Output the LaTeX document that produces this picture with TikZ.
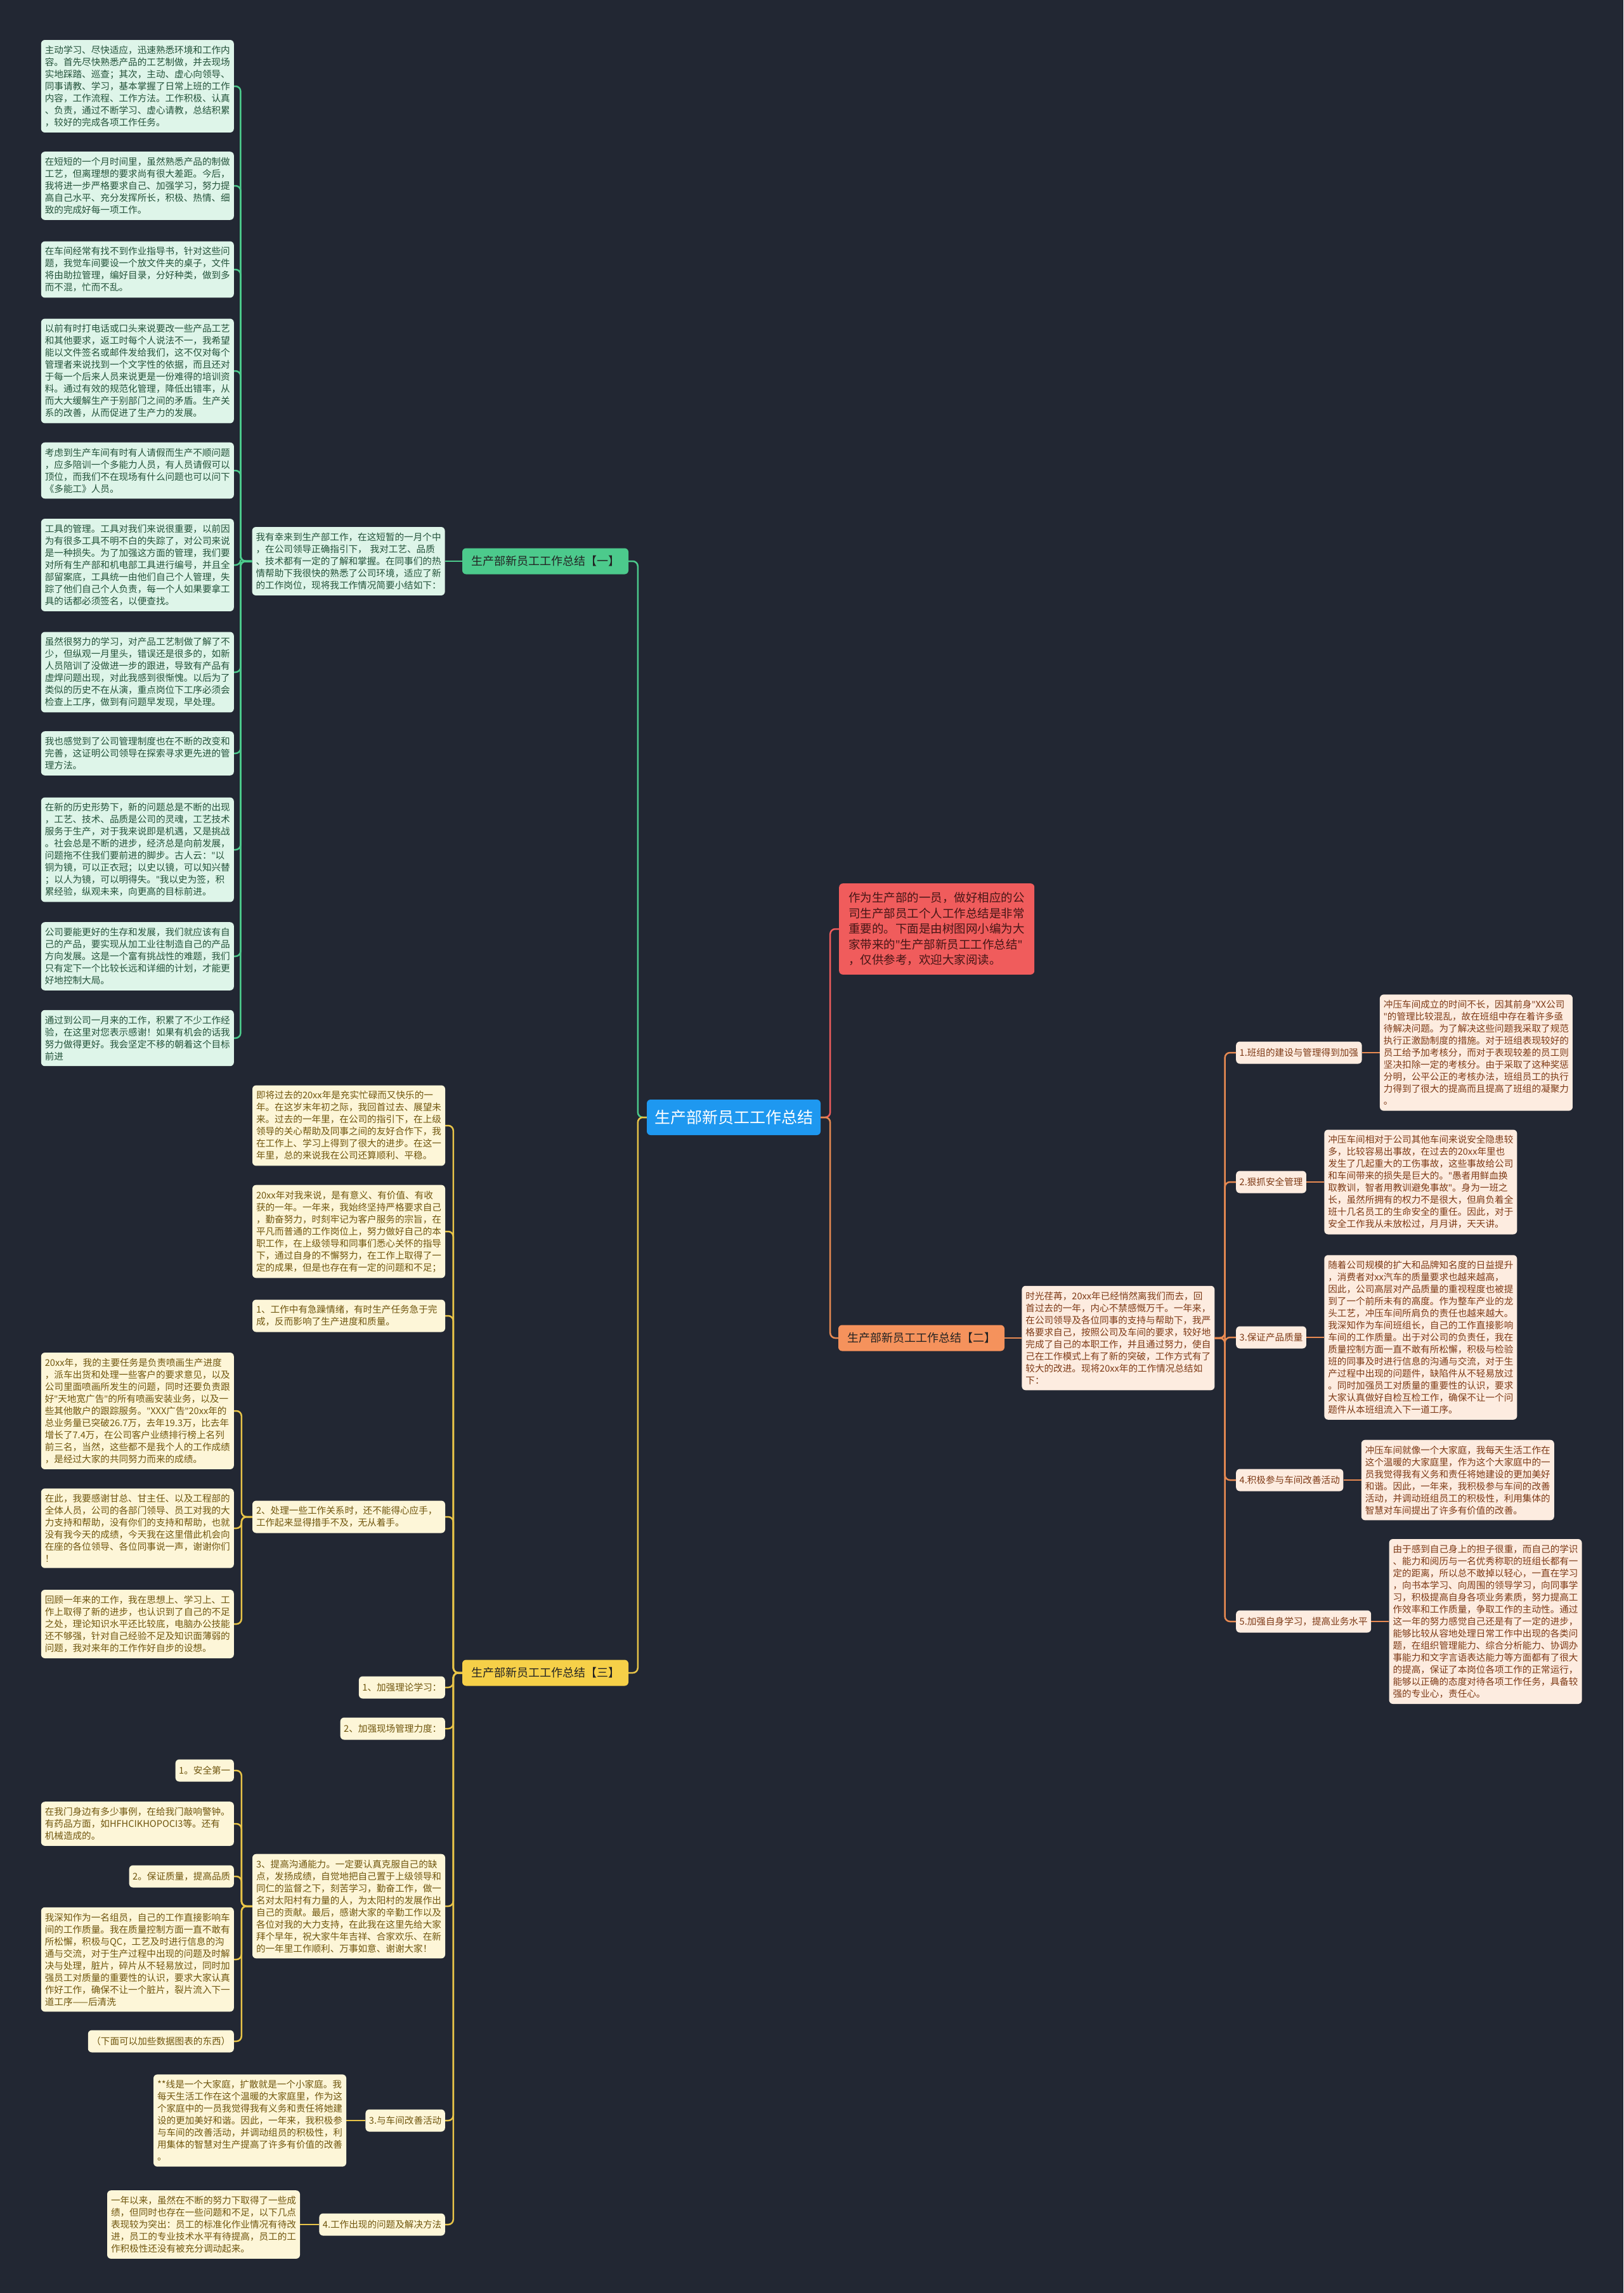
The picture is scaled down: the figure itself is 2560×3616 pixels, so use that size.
\documentclass[tikz,border=0pt]{standalone}
\usepackage{fontspec}
\setmainfont{Noto Sans CJK SC}
\newfontfamily\latinfont{Noto Sans}
\newcommand{\dq}{{\latinfont "}}
\usepackage{tikz}
\usepackage{xcolor}
\usetikzlibrary{positioning}
\definecolor{bgdark}{RGB}{34, 39, 51}
\definecolor{rootblue}{RGB}{30, 152, 240}
\definecolor{introred}{RGB}{240, 92, 92}
\definecolor{introtext}{RGB}{70, 22, 22}
\definecolor{darktext}{RGB}{35, 35, 35}
\definecolor{grnmain}{RGB}{76, 202, 140}
\definecolor{grnfill}{RGB}{222, 245, 233}
\definecolor{grntext}{RGB}{35, 82, 58}
\definecolor{ylwmain}{RGB}{246, 208, 72}
\definecolor{ylwline}{RGB}{232, 196, 72}
\definecolor{ylwfill}{RGB}{253, 246, 216}
\definecolor{ylwtext}{RGB}{112, 86, 14}
\definecolor{orgmain}{RGB}{245, 146, 92}
\definecolor{orgline}{RGB}{232, 138, 82}
\definecolor{orgfill}{RGB}{253, 236, 224}
\definecolor{orgtext}{RGB}{126, 58, 22}
\tikzstyle{rootnode} = [rectangle, rounded corners=6pt, fill=rootblue, text=white, font=\fontsize{25}{30}\selectfont, inner xsep=12pt, minimum height=56pt]
\tikzstyle{branchnode} = [rectangle, rounded corners=6pt, text=darktext, font=\fontsize{18}{22}\selectfont, inner xsep=14pt, minimum height=41pt]
\tikzstyle{introbox} = [rectangle, rounded corners=6pt, fill=introred, text=introtext, align=left, text width=278pt, inner xsep=15pt, inner ysep=14pt, font=\fontsize{18.5}{24.5}\selectfont]
\tikzstyle{leafbox} = [rectangle, rounded corners=6pt, align=left, text width=292pt, inner xsep=6pt, inner ysep=9pt, font=\fontsize{14.6}{19}\selectfont]
\tikzstyle{tagbox} = [rectangle, rounded corners=6pt, inner xsep=5.5pt, minimum height=35pt, font=\fontsize{14.6}{19}\selectfont]
\tikzstyle{greenleaf} = [leafbox, fill=grnfill, text=grntext]
\tikzstyle{yellowleaf} = [leafbox, fill=ylwfill, text=ylwtext]
\tikzstyle{yellowtag} = [tagbox, fill=ylwfill, text=ylwtext]
\tikzstyle{orangeleaf} = [leafbox, fill=orgfill, text=orgtext]
\tikzstyle{orangetag} = [tagbox, fill=orgfill, text=orgtext]
\tikzstyle{greenlink} = [line width=2.5pt, draw=grnmain, rounded corners=8pt]
\tikzstyle{yellowlink} = [line width=2.5pt, draw=ylwline, rounded corners=8pt]
\tikzstyle{orangelink} = [line width=2.5pt, draw=orgline, rounded corners=8pt]
\tikzstyle{redlink} = [line width=2.5pt, draw=introred, rounded corners=8pt]

\begin{document}
\begin{tikzpicture}[x=1pt, y=-1pt]

\path [use as bounding box, fill=bgdark] (0,0) rectangle (2560,3616);

% Centre topic and intro
\node (root) [rootnode] at (1157,1762) {生产部新员工工作总结};
\node (intro) [introbox, anchor=west] at (1323,1465) {作为生产部的一员，做好相应的公\\司生产部员工个人工作总结是非常\\重要的。下面是由树图网小编为大\\家带来的\dq 生产部新员工工作总结\dq\\，仅供参考，欢迎大家阅读。};

% Part one (green, upper left)
\node (part1) [branchnode, fill=grnmain] at (860,885) {生产部新员工工作总结【一】};
\node (part1text) [greenleaf, left=27pt of part1] {我有幸来到生产部工作，在这短暂的一月个中\\，在公司领导正确指引下， 我对工艺、品质\\、技术都有一定的了解和掌握。在同事们的热\\情帮助下我很快的熟悉了公司环境，适应了新\\的工作岗位，现将我工作情况简要小结如下：};
\node (p1a) [greenleaf, anchor=east] at (369,136) {主动学习、尽快适应，迅速熟悉环境和工作内\\容。首先尽快熟悉产品的工艺制做，并去现场\\实地踩踏、巡查；其次，主动、虚心向领导、\\同事请教、学习，基本掌握了日常上班的工作\\内容，工作流程、工作方法。工作积极、认真\\、负责，通过不断学习、虚心请教，总结积累\\，较好的完成各项工作任务。};
\node (p1b) [greenleaf, anchor=east] at (369,293) {在短短的一个月时间里，虽然熟悉产品的制做\\工艺，但离理想的要求尚有很大差距。今后，\\我将进一步严格要求自己、加强学习，努力提\\高自己水平、充分发挥所长，积极、热情、细\\致的完成好每一项工作。};
\node (p1c) [greenleaf, anchor=east] at (369,425) {在车间经常有找不到作业指导书，针对这些问\\题，我觉车间要设一个放文件夹的桌子，文件\\将由助拉管理，编好目录，分好种类，做到多\\而不混，忙而不乱。};
\node (p1d) [greenleaf, anchor=east] at (369,585) {以前有时打电话或口头来说要改一些产品工艺\\和其他要求，返工时每个人说法不一，我希望\\能以文件签名或邮件发给我们，这不仅对每个\\管理者来说找到一个文字性的依据，而且还对\\于每一个后来人员来说更是一份难得的培训资\\料。通过有效的规范化管理，降低出错率，从\\而大大缓解生产于别部门之间的矛盾。生产关\\系的改善，从而促进了生产力的发展。};
\node (p1e) [greenleaf, anchor=east] at (369,742) {考虑到生产车间有时有人请假而生产不顺问题\\，应多陪训一个多能力人员，有人员请假可以\\顶位，而我们不在现场有什么问题也可以问下\\《多能工》人员。};
\node (p1f) [greenleaf, anchor=east] at (369,891) {工具的管理。工具对我们来说很重要，以前因\\为有很多工具不明不白的失踪了，对公司来说\\是一种损失。为了加强这方面的管理，我们要\\对所有生产部和机电部工具进行编号，并且全\\部留案底，工具统一由他们自己个人管理，失\\踪了他们自己个人负责，每一个人如果要拿工\\具的话都必须签名，以便查找。};
\node (p1g) [greenleaf, anchor=east] at (369,1060) {虽然很努力的学习，对产品工艺制做了解了不\\少，但纵观一月里头，错误还是很多的，如新\\人员陪训了没做进一步的跟进，导致有产品有\\虚焊问题出现，对此我感到很惭愧。以后为了\\类似的历史不在从演，重点岗位下工序必须会\\检查上工序，做到有问题早发现，早处理。};
\node (p1h) [greenleaf, anchor=east] at (369,1188) {我也感觉到了公司管理制度也在不断的改变和\\完善，这证明公司领导在探索寻求更先进的管\\理方法。};
\node (p1i) [greenleaf, anchor=east] at (369,1340) {在新的历史形势下，新的问题总是不断的出现\\，工艺、技术、品质是公司的灵魂，工艺技术\\服务于生产，对于我来说即是机遇，又是挑战\\。社会总是不断的进步，经济总是向前发展，\\问题拖不住我们要前进的脚步。古人云：\dq 以\\铜为镜，可以正衣冠；以史以镜，可以知兴替\\；以人为镜，可以明得失。\dq 我以史为签，积\\累经验，纵观未来，向更高的目标前进。};
\node (p1j) [greenleaf, anchor=east] at (369,1508) {公司要能更好的生存和发展，我们就应该有自\\己的产品，要实现从加工业往制造自己的产品\\方向发展。这是一个富有挑战性的难题，我们\\只有定下一个比较长远和详细的计划，才能更\\好地控制大局。};
\node (p1k) [greenleaf, anchor=east] at (369,1637) {通过到公司一月来的工作，积累了不少工作经\\验，在这里对您表示感谢！如果有机会的话我\\努力做得更好。我会坚定不移的朝着这个目标\\前进};

% Part three (yellow, lower left)
\node (part3) [branchnode, fill=ylwmain] at (860,2638) {生产部新员工工作总结【三】};
\node (p3a) [yellowleaf] at (550,1775) {即将过去的20xx年是充实忙碌而又快乐的一\\年。在这岁末年初之际，我回首过去、展望未\\来。过去的一年里，在公司的指引下，在上级\\领导的关心帮助及同事之间的友好合作下，我\\在工作上、学习上得到了很大的进步。在这一\\年里，总的来说我在公司还算顺利、平稳。};
\node (p3b) [yellowleaf] at (550,1942) {20xx年对我来说，是有意义、有价值、有收\\获的一年。一年来，我始终坚持严格要求自己\\，勤奋努力，时刻牢记为客户服务的宗旨，在\\平凡而普通的工作岗位上，努力做好自己的本\\职工作，在上级领导和同事们悉心关怀的指导\\下，通过自身的不懈努力，在工作上取得了一\\定的成果，但是也存在有一定的问题和不足；};
\node (p3c) [yellowleaf] at (550,2075) {1、工作中有急躁情绪，有时生产任务急于完\\成，反而影响了生产进度和质量。};
\node (p3d) [yellowleaf] at (550,2392) {2、处理一些工作关系时，还不能得心应手，\\工作起来显得措手不及，无从着手。};
\node (p3e) [yellowtag, anchor=east] at (702,2661) {1、加强理论学习：};
\node (p3f) [yellowtag, anchor=east] at (702,2726) {2、加强现场管理力度：};
\node (p3g) [yellowleaf] at (550,3006) {3、提高沟通能力。一定要认真克服自己的缺\\点，发扬成绩，自觉地把自己置于上级领导和\\同仁的监督之下，刻苦学习，勤奋工作，做一\\名对太阳村有力量的人，为太阳村的发展作出\\自己的贡献。最后，感谢大家的辛勤工作以及\\各位对我的大力支持，在此我在这里先给大家\\拜个早年，祝大家牛年吉祥、合家欢乐、在新\\的一年里工作顺利、万事如意、谢谢大家！};
\node (p3h) [yellowtag, anchor=east] at (702,3344) {3.与车间改善活动};
\node (p3i) [yellowtag, anchor=east] at (702,3508) {4.工作出现的问题及解决方法};

\node (p3d1) [yellowleaf, anchor=east] at (369,2225) {20xx年，我的主要任务是负责喷画生产进度\\，派车出货和处理一些客户的要求意见，以及\\公司里面喷画所发生的问题，同时还要负责跟\\好\dq 天地宽广告\dq 的所有喷画安装业务，以及一\\些其他散户的跟踪服务。\dq XXX广告\dq 20xx年的\\总业务量已突破26.7万，去年19.3万，比去年\\增长了7.4万，在公司客户业绩排行榜上名列\\前三名，当然，这些都不是我个人的工作成绩\\，是经过大家的共同努力而来的成绩。};
\node (p3d2) [yellowleaf, anchor=east] at (369,2410) {在此，我要感谢甘总、甘主任、以及工程部的\\全体人员，公司的各部门领导、员工对我的大\\力支持和帮助，没有你们的支持和帮助，也就\\没有我今天的成绩，今天我在这里借此机会向\\在座的各位领导、各位同事说一声，谢谢你们\\！};
\node (p3d3) [yellowleaf, anchor=east] at (369,2561) {回顾一年来的工作，我在思想上、学习上、工\\作上取得了新的进步，也认识到了自己的不足\\之处，理论知识水平还比较底，电脑办公技能\\还不够强，针对自己经验不足及知识面薄弱的\\问题，我对来年的工作作好自步的设想。};

\node (p3g1) [yellowtag, anchor=east] at (369,2792) {1。安全第一};
\node (p3g2) [yellowleaf, anchor=east] at (369,2876) {在我门身边有多少事例，在给我门敲响警钟。\\有药品方面，如HFHCIKHOPOCI3等。还有\\机械造成的。};
\node (p3g3) [yellowtag, anchor=east] at (369,2959) {2。保证质量，提高品质};
\node (p3g4) [yellowleaf, anchor=east] at (369,3090) {我深知作为一名组员，自己的工作直接影响车\\间的工作质量。我在质量控制方面一直不敢有\\所松懈，积极与QC，工艺及时进行信息的沟\\通与交流，对于生产过程中出现的问题及时解\\决与处理，脏片，碎片从不轻易放过，同时加\\强员工对质量的重要性的认识，要求大家认真\\作好工作，确保不让一个脏片，裂片流入下一\\道工序——后清洗};
\node (p3g5) [yellowtag, anchor=east] at (369,3219) {（下面可以加些数据图表的东西）};

\node (p3h1) [yellowleaf, left=30pt of p3h] {**线是一个大家庭，扩散就是一个小家庭。我\\每天生活工作在这个温暖的大家庭里，作为这\\个家庭中的一员我觉得我有义务和责任将她建\\设的更加美好和谐。因此，一年来，我积极参\\与车间的改善活动，并调动组员的积极性，利\\用集体的智慧对生产提高了许多有价值的改善\\。};
\node (p3i1) [yellowleaf, left=30pt of p3i] {一年以来，虽然在不断的努力下取得了一些成\\绩，但同时也存在一些问题和不足，以下几点\\表现较为突出：员工的标准化作业情况有待改\\进，员工的专业技术水平有待提高，员工的工\\作积极性还没有被充分调动起来。};

% Part two (orange, right)
\node (part2) [branchnode, fill=orgmain] at (1453,2110) {生产部新员工工作总结【二】};
\node (part2text) [orangeleaf, right=27pt of part2] {时光荏苒，20xx年已经悄然离我们而去，回\\首过去的一年，内心不禁感慨万千。一年来，\\在公司领导及各位同事的支持与帮助下，我严\\格要求自己，按照公司及车间的要求，较好地\\完成了自己的本职工作，并且通过努力，使自\\己在工作模式上有了新的突破，工作方式有了\\较大的改进。现将20xx年的工作情况总结如\\下：};
\node (p2a) [orangetag, anchor=west] at (1949,1660) {1.班组的建设与管理得到加强};
\node (p2b) [orangetag, anchor=west] at (1949,1864) {2.狠抓安全管理};
\node (p2c) [orangetag, anchor=west] at (1949,2109) {3.保证产品质量};
\node (p2d) [orangetag, anchor=west] at (1949,2334) {4.积极参与车间改善活动};
\node (p2e) [orangetag, anchor=west] at (1949,2557) {5.加强自身学习，提高业务水平};

\node (p2a1) [orangeleaf, right=28pt of p2a] {冲压车间成立的时间不长，因其前身\dq XX公司\\\dq 的管理比较混乱，故在班组中存在着许多亟\\待解决问题。为了解决这些问题我采取了规范\\执行正激励制度的措施。对于班组表现较好的\\员工给予加考核分，而对于表现较差的员工则\\坚决扣除一定的考核分。由于采取了这种奖惩\\分明，公平公正的考核办法，班组员工的执行\\力得到了很大的提高而且提高了班组的凝聚力\\。};
\node (p2b1) [orangeleaf, right=28pt of p2b] {冲压车间相对于公司其他车间来说安全隐患较\\多，比较容易出事故，在过去的20xx年里也\\发生了几起重大的工伤事故，这些事故给公司\\和车间带来的损失是巨大的。\dq 愚者用鲜血换\\取教训，智者用教训避免事故\dq 。身为一班之\\长，虽然所拥有的权力不是很大，但肩负着全\\班十几名员工的生命安全的重任。因此，对于\\安全工作我从未放松过，月月讲，天天讲。};
\node (p2c1) [orangeleaf, right=28pt of p2c] {随着公司规模的扩大和品牌知名度的日益提升\\，消费者对xx汽车的质量要求也越来越高，\\因此，公司高层对产品质量的重视程度也被提\\到了一个前所未有的高度。作为整车产业的龙\\头工艺，冲压车间所肩负的责任也越来越大。\\我深知作为车间班组长，自己的工作直接影响\\车间的工作质量。出于对公司的负责任，我在\\质量控制方面一直不敢有所松懈，积极与检验\\班的同事及时进行信息的沟通与交流，对于生\\产过程中出现的问题件，缺陷件从不轻易放过\\。同时加强员工对质量的重要性的认识，要求\\大家认真做好自检互检工作，确保不让一个问\\题件从本班组流入下一道工序。};
\node (p2d1) [orangeleaf, right=28pt of p2d] {冲压车间就像一个大家庭，我每天生活工作在\\这个温暖的大家庭里，作为这个大家庭中的一\\员我觉得我有义务和责任将她建设的更加美好\\和谐。因此，一年来，我积极参与车间的改善\\活动，并调动班组员工的积极性，利用集体的\\智慧对车间提出了许多有价值的改善。};
\node (p2e1) [orangeleaf, right=28pt of p2e] {由于感到自己身上的担子很重，而自己的学识\\、能力和阅历与一名优秀称职的班组长都有一\\定的距离，所以总不敢掉以轻心，一直在学习\\，向书本学习、向周围的领导学习，向同事学\\习，积极提高自身各项业务素质，努力提高工\\作效率和工作质量，争取工作的主动性。通过\\这一年的努力感觉自己还是有了一定的进步，\\能够比较从容地处理日常工作中出现的各类问\\题，在组织管理能力、综合分析能力、协调办\\事能力和文字言语表达能力等方面都有了很大\\的提高，保证了本岗位各项工作的正常运行，\\能够以正确的态度对待各项工作任务，具备较\\强的专业心，责任心。};

% Root to branches
\draw [greenlink] (root.west) -- ++(-14,0) |- (part1.east);
\draw [yellowlink] (root.west) -- ++(-14,0) |- (part3.east);
\draw [redlink] (root.east) -- ++(15,0) |- (intro.west);
\draw [orangelink] (root.east) -- ++(15,0) |- (part2.west);

% Part one links
\draw [greenlink] (part1.west) -- (part1text.east);
\draw [greenlink] (part1text.west) -- ++(-18,0) |- (p1a.east);
\draw [greenlink] (part1text.west) -- ++(-18,0) |- (p1b.east);
\draw [greenlink] (part1text.west) -- ++(-18,0) |- (p1c.east);
\draw [greenlink] (part1text.west) -- ++(-18,0) |- (p1d.east);
\draw [greenlink] (part1text.west) -- ++(-18,0) |- (p1e.east);
\draw [greenlink] (part1text.west) -- ++(-18,0) |- (p1f.east);
\draw [greenlink] (part1text.west) -- ++(-18,0) |- (p1g.east);
\draw [greenlink] (part1text.west) -- ++(-18,0) |- (p1h.east);
\draw [greenlink] (part1text.west) -- ++(-18,0) |- (p1i.east);
\draw [greenlink] (part1text.west) -- ++(-18,0) |- (p1j.east);
\draw [greenlink] (part1text.west) -- ++(-18,0) |- (p1k.east);

% Part three links
\draw [yellowlink] (part3.west) -- ++(-14,0) |- (p3a.east);
\draw [yellowlink] (part3.west) -- ++(-14,0) |- (p3b.east);
\draw [yellowlink] (part3.west) -- ++(-14,0) |- (p3c.east);
\draw [yellowlink] (part3.west) -- ++(-14,0) |- (p3d.east);
\draw [yellowlink] (part3.west) -- ++(-14,0) |- (p3e.east);
\draw [yellowlink] (part3.west) -- ++(-14,0) |- (p3f.east);
\draw [yellowlink] (part3.west) -- ++(-14,0) |- (p3g.east);
\draw [yellowlink] (part3.west) -- ++(-14,0) |- (p3h.east);
\draw [yellowlink] (part3.west) -- ++(-14,0) |- (p3i.east);
\draw [yellowlink] (p3d.west) -- ++(-17,0) |- (p3d1.east);
\draw [yellowlink] (p3d.west) -- ++(-17,0) |- (p3d2.east);
\draw [yellowlink] (p3d.west) -- ++(-17,0) |- (p3d3.east);
\draw [yellowlink] (p3g.west) -- ++(-17,0) |- (p3g1.east);
\draw [yellowlink] (p3g.west) -- ++(-17,0) |- (p3g2.east);
\draw [yellowlink] (p3g.west) -- ++(-17,0) |- (p3g3.east);
\draw [yellowlink] (p3g.west) -- ++(-17,0) |- (p3g4.east);
\draw [yellowlink] (p3g.west) -- ++(-17,0) |- (p3g5.east);
\draw [yellowlink] (p3h.west) -- (p3h1.east);
\draw [yellowlink] (p3i.west) -- (p3i1.east);

% Part two links
\draw [orangelink] (part2.east) -- (part2text.west);
\draw [orangelink] (part2text.east) -- ++(16,0) |- (p2a.west);
\draw [orangelink] (part2text.east) -- ++(16,0) |- (p2b.west);
\draw [orangelink] (part2text.east) -- ++(16,0) |- (p2c.west);
\draw [orangelink] (part2text.east) -- ++(16,0) |- (p2d.west);
\draw [orangelink] (part2text.east) -- ++(16,0) |- (p2e.west);
\draw [orangelink] (p2a.east) -- (p2a1.west);
\draw [orangelink] (p2b.east) -- (p2b1.west);
\draw [orangelink] (p2c.east) -- (p2c1.west);
\draw [orangelink] (p2d.east) -- (p2d1.west);
\draw [orangelink] (p2e.east) -- (p2e1.west);

\end{tikzpicture}
\end{document}
